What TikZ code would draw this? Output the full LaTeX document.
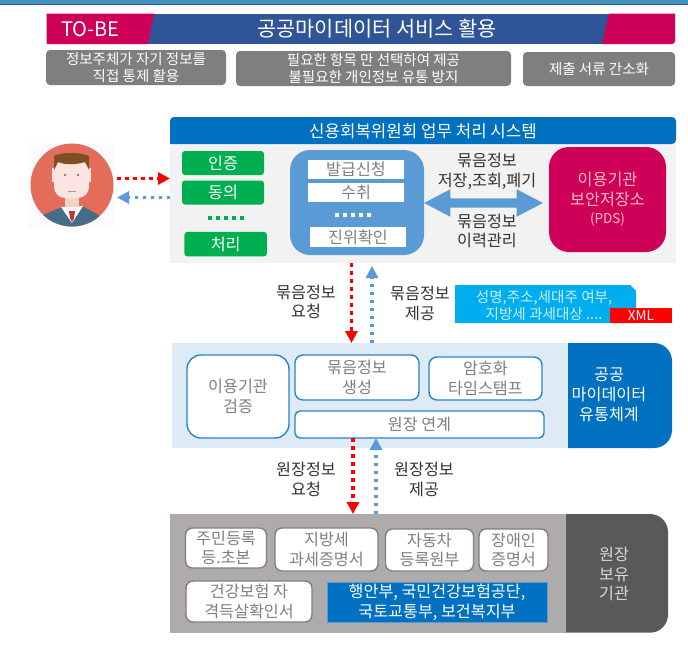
\documentclass[tikz,border=0pt]{standalone}
\usepackage{fontspec}
\setmainfont{Noto Sans CJK KR}
\usetikzlibrary{arrows.meta}
\usetikzlibrary{shapes.arrows}
\definecolor{sysblue}{HTML}{0070C0}
\definecolor{midblue}{HTML}{5B9BD5}
\definecolor{barblue}{HTML}{2F5597}
\definecolor{rosepink}{HTML}{CE0058}
\definecolor{okgreen}{HTML}{00B050}
\definecolor{midgrey}{HTML}{7F7F7F}
\definecolor{skin}{HTML}{FBE3DF}
\definecolor{suit}{HTML}{446E87}
\definecolor{hair}{HTML}{7F4F24}
\definecolor{paleblue}{HTML}{DEEAF6}
\definecolor{stonegrey}{HTML}{AFABAB}
\begin{document}
\begin{tikzpicture}[x=1pt,y=-1pt]
	\tikzset{
		txt/.style={font=\fontsize{16.2}{19.8}\selectfont,align=center,inner sep=0pt,text=#1},
		txt/.default=black!80,
		goalbox/.style={fill=midgrey,rounded corners=4pt,inner sep=0pt,align=center,text=white,font=\fontsize{14.5}{17.5}\selectfont},
		okbox/.style={fill=okgreen,rounded corners=3pt,inner sep=0pt,text=white,font=\fontsize{16.2}{18}\selectfont},
		reqbox/.style={fill=white,inner sep=0pt,text=midgrey,font=\fontsize{16.2}{18}\selectfont},
		hubbox/.style={fill=white,draw=sysblue!85!white,line width=1.4pt,inner sep=0pt,align=center,text=midgrey,font=\fontsize{16.2}{19.8}\selectfont},
		srcbox/.style={fill=white,draw=midgrey,line width=1.4pt,rounded corners=7pt,inner sep=0pt,align=center,text=midgrey,font=\fontsize{16.2}{19.8}\selectfont},
		reqline/.style={red,line width=3.5pt,dash pattern=on 3.5pt off 4.5pt,-{Triangle[length=12pt,width=12pt,fill=red]}},
		ansline/.style={midblue,line width=3.5pt,dash pattern=on 3.5pt off 4.5pt,-{Triangle[length=12pt,width=12pt,fill=midblue]}}
	}
	\useasboundingbox (0,0) rectangle (688,645);
	% top strip
	\fill[midblue!75!teal] (0,0) rectangle (688,3.5);
	\fill[barblue] (0,3.5) rectangle (688,5);
	% title bar
	\fill[barblue] (145,13.5) rectangle (612,44);
	\fill[rosepink] (154,13.5) -- (46.5,13.5) -- (46.5,44) -- (148,44) -- cycle;
	\fill[rosepink] (609,13.5) -- (675,13.5) -- (675,41) arc (0:90:3) -- (602,44) -- cycle;
	\node[text=white,font=\fontsize{20}{24}\selectfont,inner sep=0pt] (tobe) at (90.5,29) {TO-BE};
	\node[text=white,font=\fontsize{20.8}{24}\selectfont,inner sep=0pt] (title) at (377,28.5) {공공마이데이터 서비스 활용};
	% goals
	\node[goalbox,minimum width=180pt,minimum height=35pt] (goalown) at (136,67.5) {정보주체가 자기 정보를\\직접 통제 활용};
	\node[goalbox,minimum width=275pt,minimum height=35pt] (goalpick) at (373.5,68.5) {필요한 항목 만 선택하여 제공\\불필요한 개인정보 유통 방지};
	\node[goalbox,minimum width=152pt,minimum height=34pt] (goaldoc) at (599,69) {제출 서류 간소화};
	% person
	\fill[blue!2!white] (28,143) rectangle (114,228);
	\node[circle,fill={rgb,255:red,227;green,108;blue,90},minimum size=83pt,inner sep=0pt] (user) at (72,185) {};
	\begin{scope}
		\clip (72,185) circle (41.5);
		\fill[suit] (43,215) -- (62,207) -- (82,206) -- (99,215) -- (108,235) -- (36,235) -- cycle;
		\fill[white] (61,207) -- (83,206) -- (72,223) -- cycle;
		\fill[red!70!black!80!white] (69,211) -- (75,211) -- (74,218) -- (72,222) -- (70,218) -- cycle;
		\fill[skin!85!brown] (65,195) rectangle (79,207);
		\fill[skin,rounded corners=11pt] (54,160) rectangle (89,198);
		\fill[skin] (52,168) rectangle (56,182);
		\fill[skin] (87,168) rectangle (91,182);
		\fill[hair] (54,170) -- (54,156) .. controls (60,152) and (82,152) .. (89,156) -- (89,170) -- (85,162) .. controls (75,165) and (65,165) .. (58,162) -- cycle;
		\fill[black!60] (65,175) circle (1.2);
		\fill[black!60] (78,175) circle (1.2);
		\fill[red!45!black!45!white] (68,190.5) rectangle (76,192);
	\end{scope}
	% credit relief system
	\fill[black!5] (170,144) rectangle (676,263);
	\fill[sysblue,rounded corners=4pt] (170,144) -- (170,117) -- (676,117) -- (676,144) [sharp corners] -- cycle;
	\node[text=white,font=\fontsize{16.8}{20}\selectfont,inner sep=0pt] (systitle) at (423,131) {신용회복위원회 업무 처리 시스템};
	\node[okbox,minimum width=82pt,minimum height=24pt] (auth) at (223,163) {인증};
	\node[okbox,minimum width=82pt,minimum height=24pt] (agree) at (223,192.5) {동의};
	\coordinate (gdotsa) at (208,218);
	\coordinate (gdotsb) at (246,218);
	\draw[okgreen,line width=3.5pt,dash pattern=on 3.5pt off 4.5pt] (gdotsa) -- (gdotsb);
	\node[okbox,minimum width=82.5pt,minimum height=24.5pt] (proc) at (225.7,244.2) {처리};
	\node[fill=midblue,rounded corners=20pt,minimum width=134pt,minimum height=105pt,inner sep=0pt] (reqs) at (357,202.5) {};
	\node[reqbox,minimum width=96pt,minimum height=19pt] (apply) at (356,169.5) {발급신청};
	\node[reqbox,minimum width=96pt,minimum height=19pt] (recv) at (356,192.5) {수취};
	\coordinate (wdotsa) at (335,215);
	\coordinate (wdotsb) at (373,215);
	\draw[white,line width=3.5pt,dash pattern=on 3.5pt off 4.5pt] (wdotsa) -- (wdotsb);
	\node[reqbox,minimum width=96pt,minimum height=19.5pt] (verify) at (358,237.2) {진위확인};
	\node[fill=rosepink,rounded corners=20pt,minimum width=117pt,minimum height=105pt,inner sep=0pt] (pds) at (607.5,199.5) {};
	\node[txt={red!25!white}] (pdstxt) at (607.5,189.5) {이용기관\\보안저장소};
	\node[text=red!25!white,font=\fontsize{13.5}{16}\selectfont,inner sep=0pt] (pdsabbr) at (607.5,219) {(PDS)};
	\node[double arrow,fill=midblue,minimum height=119pt,minimum width=27pt,inner xsep=0pt,inner ysep=4.5pt,double arrow tip angle=55,double arrow head extend=9pt] (store) at (483.5,203) {};
	\node[txt] (storetxt) at (487,171) {묶음정보\\저장,조회,폐기};
	\node[txt] (histtxt) at (487,231) {묶음정보\\이력관리};
	% user arrows
	\coordinate (userout) at (117,178.5);
	\coordinate (sysin) at (170,178.5);
	\coordinate (sysout) at (170,197.5);
	\coordinate (userin) at (117,197.5);
	\draw[reqline] (userout) -- (sysin);
	\draw[ansline] (sysout) -- (userin);
	% public mydata hub
	\fill[paleblue] (172,343) rectangle (568,448);
	\node[txt] (reqtxt) at (306,302) {묶음정보\\요청};
	\node[txt] (anstxt) at (420,303.5) {묶음정보\\제공};
	\fill[cyan!100!blue!100] (455,285) -- (630,285) -- (636,291) -- (636,323) -- (455,323) -- cycle;
	\node[text=white!80!cyan,font=\fontsize{14.6}{17}\selectfont,align=center,inner sep=0pt] (fields) at (544,305.5) {성명,주소,세대주 여부,\\지방세 과세대상 ....};
	\node[fill=red,text=white,font=\fontsize{13.5}{15}\selectfont,inner sep=0pt,minimum width=62pt,minimum height=15pt] (xml) at (641,315.5) {XML};
	\fill[sysblue,rounded corners=18pt] (568,448) [sharp corners] -- (568,343) [rounded corners=18pt] -- (672,343) -- (672,448) [sharp corners] -- cycle;
	\node[txt=white] (hubtxt) at (609,395) {공공\\마이데이터\\유통체계};
	\node[hubbox,rounded corners=14pt,minimum width=102pt,minimum height=83pt] (check) at (238,396.5) {이용기관\\검증};
	\node[hubbox,rounded corners=8pt,minimum width=124pt,minimum height=45pt] (bundle) at (357,377.5) {묶음정보\\생성};
	\node[hubbox,rounded corners=8pt,minimum width=113pt,minimum height=43pt] (stamp) at (485.5,378.5) {암호화\\타임스탬프};
	\node[hubbox,rounded corners=5pt,minimum width=249pt,minimum height=27pt] (link) at (419.5,424.5) {원장 연계};
	% bundle arrows
	\coordinate (sysreq) at (351.5,263);
	\coordinate (hubreq) at (351.5,343);
	\coordinate (hubans) at (372,343);
	\coordinate (sysans) at (372,266);
	\draw[reqline] (sysreq) -- (hubreq);
	\draw[ansline] (hubans) -- (sysans);
	% ledger holders
	\fill[stonegrey] (169.5,514) rectangle (566,632.7);
	\fill[black!65,rounded corners=18pt] (566,632.7) [sharp corners] -- (566,514) [rounded corners=18pt] -- (668,514) -- (668,632.7) [sharp corners] -- cycle;
	\node[txt=black!15] (holdtxt) at (614,574) {원장\\보유\\기관};
	\node[srcbox,minimum width=81pt,minimum height=40pt] (resid) at (226,548) {주민등록\\등.초본};
	\node[srcbox,minimum width=103pt,minimum height=43pt] (tax) at (326.5,549.5) {지방세\\과세증명서};
	\node[srcbox,minimum width=88pt,minimum height=42pt] (car) at (429.5,550) {자동차\\등록원부};
	\node[srcbox,minimum width=69pt,minimum height=42pt] (disab) at (513.5,550) {장애인\\증명서};
	\node[srcbox,minimum width=126pt,minimum height=41pt] (health) at (249,601.5) {건강보험 자\\격득살확인서};
	\node[fill=sysblue,draw=midblue,inner sep=0pt,minimum width=220pt,minimum height=40pt,align=center,text=white,font=\fontsize{16.2}{19.8}\selectfont] (orgs) at (437,602) {행안부, 국민건강보험공단,\\국토교통부, 보건복지부};
	\node[txt] (ledreq) at (306,479.5) {원장정보\\요청};
	\node[txt] (ledans) at (424,479.5) {원장정보\\제공};
	% ledger arrows
	\coordinate (linkreq) at (353,438);
	\coordinate (holdreq) at (353,514);
	\coordinate (holdans) at (376,514);
	\coordinate (linkans) at (376,438);
	\draw[reqline] (linkreq) -- (holdreq);
	\draw[ansline] (holdans) -- (linkans);
\end{tikzpicture}
\end{document}
